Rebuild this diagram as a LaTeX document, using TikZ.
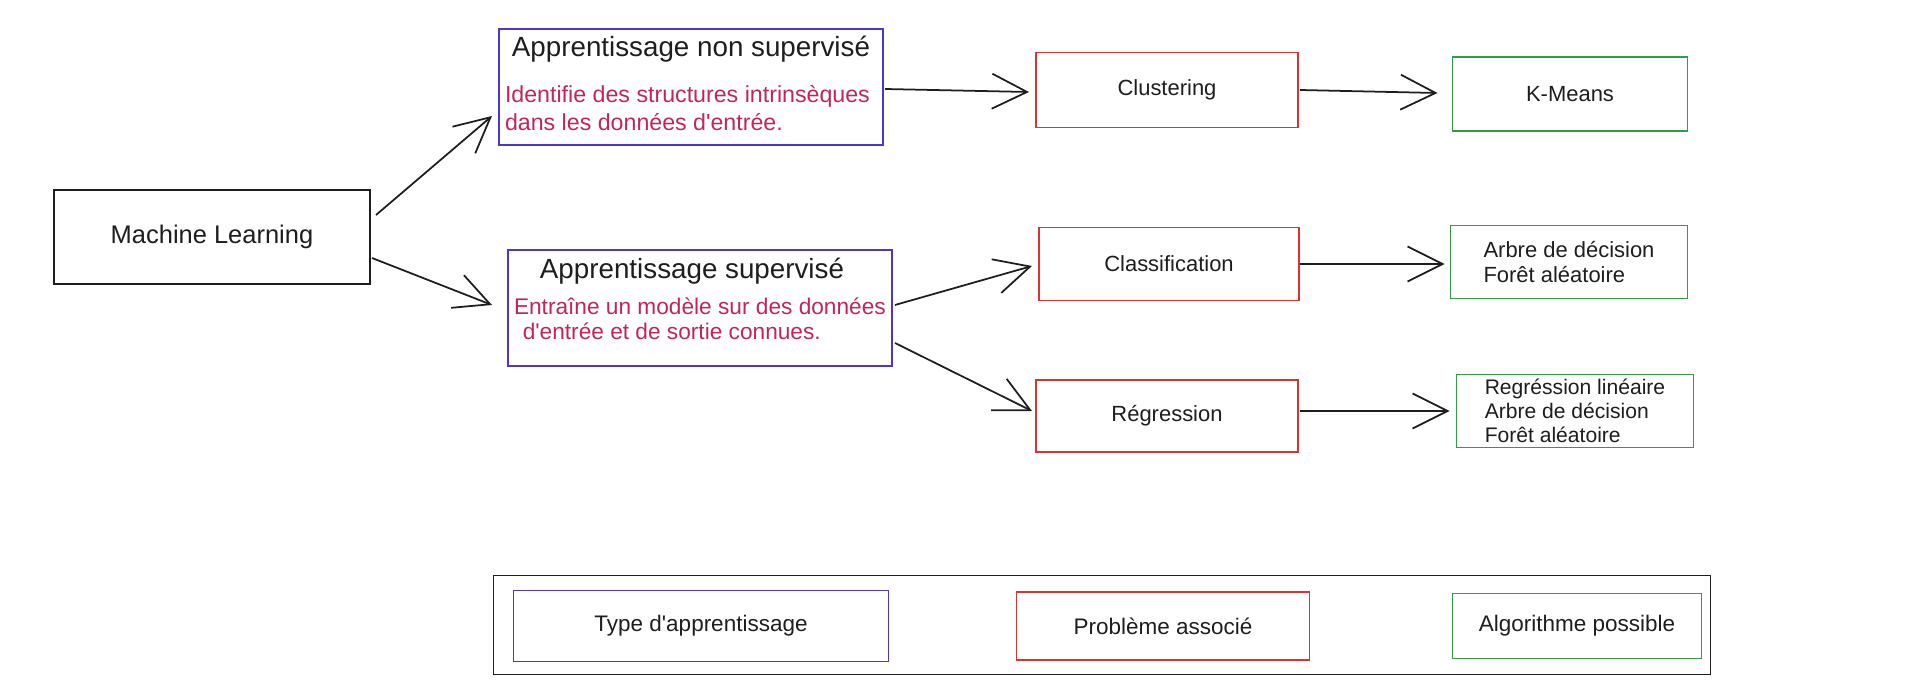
\documentclass[tikz,border=0pt]{standalone}
\usepackage{fontspec}
\setmainfont{Liberation Sans}
\usetikzlibrary{arrows.meta}
\definecolor{inkblack}{HTML}{1E1E1E}
\definecolor{typeblue}{HTML}{4F35CF}
\definecolor{probred}{HTML}{E03131}
\definecolor{algogreen}{HTML}{2F9E44}
\definecolor{descpink}{HTML}{C2255C}
\begin{document}
\begin{tikzpicture}[
  x=0.2mm, y=-0.2mm,
  every node/.style={inner sep=0pt, outer sep=0pt, text=inkblack},
  box/.style={draw, line width=1pt, rectangle},
  root box/.style={box, draw=inkblack, font=\fontsize{14.5}{17}\selectfont},
  type box/.style={box, draw=typeblue},
  prob box/.style={box, draw=probred, font=\fontsize{12.5}{15}\selectfont},
  algo box/.style={box, draw=algogreen, align=left, font=\fontsize{12.5}{14.5}\selectfont},
  title text/.style={font=\fontsize{15.8}{19}\selectfont},
  desc text/.style={text=descpink, align=left, anchor=west},
  legend text/.style={font=\fontsize{12.8}{15}\selectfont},
  arrow edge/.style={draw, inkblack, line width=1pt, -{Straight Barb[length=7mm, width=7mm, line width=1pt]}}
]
\useasboundingbox (0,0) rectangle (1914,684);
% Define the nodes
\node[root box, minimum width=63.2mm, minimum height=18.8mm] (ml) at (212,237) {Machine Learning};
\node[type box, minimum width=76.8mm, minimum height=23.2mm] (nonsup) at (691,87) {};
\node[title text] (nonsupT) at (691,49) {Apprentissage non supervisé};
\node[desc text, font=\fontsize{13.2}{15.9}\selectfont] (nonsupD) at (505,108)
  {Identifie des structures intrinsèques\\dans les données d\textquotesingle entrée.};
\node[type box, minimum width=76.8mm, minimum height=23.2mm] (sup) at (700,308) {};
\node[title text] (supT) at (692,271) {Apprentissage supervisé};
\node[desc text, font=\fontsize{12.9}{14.5}\selectfont] (supD) at (514,319)
  {Entraîne un modèle sur des données\\\hspace*{5pt}d\textquotesingle entrée et de sortie connues.};
\node[prob box, minimum width=52.4mm, minimum height=15mm] (clus) at (1167,90) {Clustering};
\node[prob box, minimum width=52mm, minimum height=14.6mm] (class) at (1169,264) {Classification};
\node[prob box, minimum width=52.4mm, minimum height=14.4mm] (reg) at (1167,416) {Régression};
\node[algo box, minimum width=47mm, minimum height=14.8mm] (kmeans) at (1570,94) {K-Means};
\node[algo box, minimum width=47.4mm, minimum height=14.6mm] (tree) at (1569,262)
  {Arbre de décision\\Forêt aléatoire};
\node[algo box, minimum width=47.4mm, minimum height=14.6mm, font=\fontsize{12}{13.8}\selectfont] (linreg) at (1575,411)
  {Regréssion linéaire\\Arbre de décision\\Forêt aléatoire};
% Legend
\node[box, draw=inkblack, minimum width=243.4mm, minimum height=19.8mm] (legend) at (1102,625) {};
\node[type box, legend text, minimum width=75mm, minimum height=14.2mm] (legType) at (701,626) {Type d\textquotesingle apprentissage};
\node[prob box, legend text, minimum width=58.6mm, minimum height=13.6mm] (legProb) at (1163,626) {Problème associé};
\node[algo box, legend text, minimum width=49.8mm, minimum height=13mm] (legAlgo) at (1577,626) {Algorithme possible};
% Define the edges
\path ([xshift=1.2mm, yshift=4.4mm]ml.east) edge[arrow edge] ([xshift=-1.4mm, yshift=-5.8mm]nonsup.west);
\path ([xshift=0.4mm, yshift=-4.2mm]ml.east) edge[arrow edge] ([xshift=-3.2mm, yshift=0.6mm]sup.west);
\path ([xshift=0.4mm, yshift=-0.4mm]nonsup.east) edge[arrow edge] ([xshift=-1.4mm, yshift=-0.4mm]clus.west);
\path ([xshift=0.4mm]clus.east) edge[arrow edge] ([xshift=-3mm, yshift=0.2mm]kmeans.west);
\path ([xshift=0.6mm, yshift=0.6mm]sup.east) edge[arrow edge] ([xshift=-1.4mm, yshift=-0.4mm]class.west);
\path ([xshift=0.6mm, yshift=-7mm]sup.east) edge[arrow edge] ([xshift=-0.8mm, yshift=1mm]reg.west);
\path ([xshift=0.2mm]class.east) edge[arrow edge] ([xshift=-1.2mm, yshift=-0.4mm]tree.west);
\path ([xshift=0.4mm, yshift=1mm]reg.east) edge[arrow edge] ([xshift=-1.4mm]linreg.west);
\end{tikzpicture}
\end{document}
